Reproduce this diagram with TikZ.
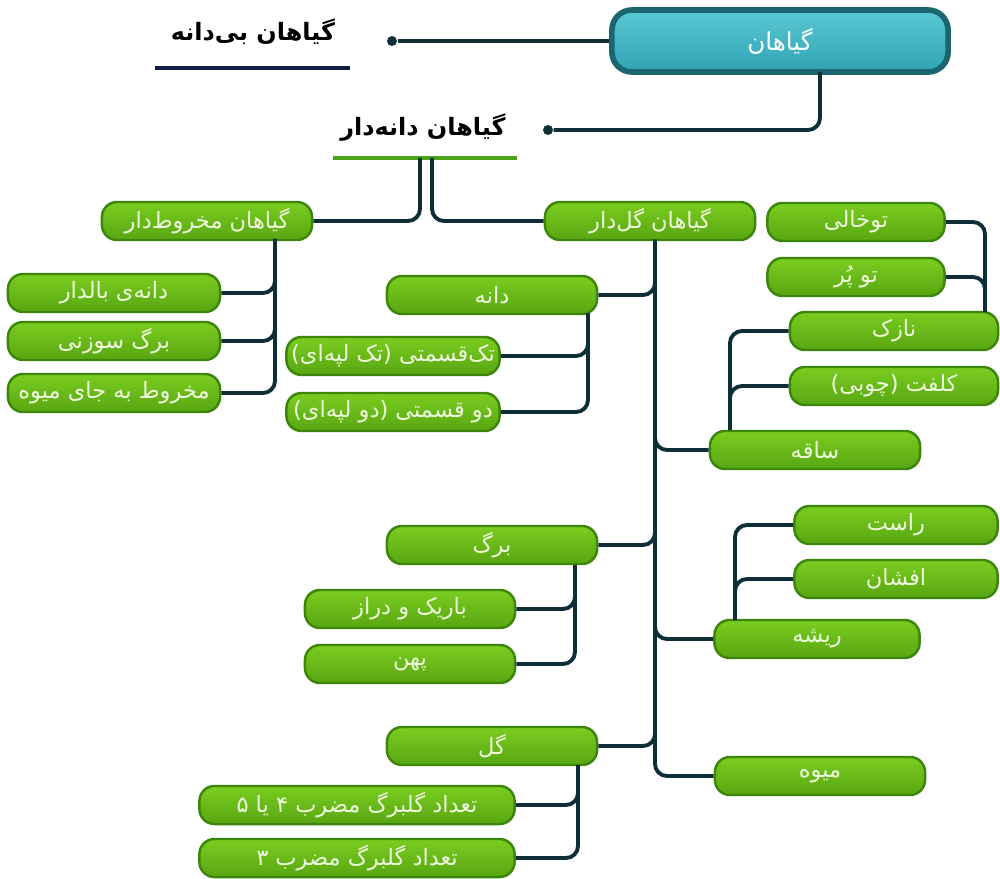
\documentclass[tikz,border=0pt]{standalone}
\usepackage{fontspec}
\newfontfamily\arabicfont[Script=Arabic]{DejaVu Sans}
\TeXXeTstate=1
\newcommand\fa[1]{{\arabicfont\beginR #1\endR}}
\definecolor{boxtop}{HTML}{7ACD20}
\definecolor{boxbot}{HTML}{58A612}
\definecolor{boxedge}{HTML}{3C860B}
\definecolor{boxtext}{HTML}{EEF8DC}
\definecolor{roottop}{HTML}{5AC8D4}
\definecolor{rootbot}{HTML}{2FA3B3}
\definecolor{rootedge}{HTML}{1B666E}
\definecolor{linecol}{HTML}{0E2E38}
\definecolor{navybar}{HTML}{101E46}
\definecolor{greenbar}{HTML}{4AA41A}
\begin{document}
\begin{tikzpicture}[x=0.01cm,y=-0.01cm,
  box/.style={draw=boxedge,line width=0.7pt,rounded corners=0.15cm,top color=boxtop,bottom color=boxbot,
    text=boxtext,font=\fontsize{6.4}{7}\selectfont,inner sep=0pt,minimum height=0.38cm,minimum width=2.1cm},
  rootbox/.style={draw=rootedge,line width=1.6pt,rounded corners=0.2cm,top color=roottop,bottom color=rootbot,
    text=white,font=\fontsize{7}{8}\selectfont,inner sep=0pt,minimum height=0.62cm,minimum width=3.36cm},
  title/.style={font=\fontsize{6.8}{8}\bfseries\selectfont,inner sep=1pt},
  conn/.style={draw=linecol,line width=1.1pt,rounded corners=0.12cm},
  dot/.style={circle,fill=linecol,inner sep=0pt,minimum size=0.1cm}]
\useasboundingbox (0,0) rectangle (1000,879);
\node[rootbox] (root) at (780,41) {\fa{گیاهان}};
\node[dot] (p1) at (392,41) {};
\node[dot] (p2) at (548,130) {};
\node[title] (bidane) at (253,32) {\fa{گیاهان بی^^^^200cدانه}};
\node[title] (danedar) at (423,128) {\fa{گیاهان دانه^^^^200cدار}};
\draw[navybar,line width=1.2pt] (155,68) -- (350,68);
\draw[greenbar,line width=1.2pt] (333,158) -- (517,158);
\coordinate (rb) at (820,72);
\coordinate (d1) at (420,158);
\coordinate (d2) at (432,158);
\draw[conn] (root.west) -- (p1);
\draw[conn] (rb) |- (p2);
\node[box] (cone) at (207,221) {\fa{گیاهان مخروط^^^^200cدار}};
\node[box] (flow) at (650,221) {\fa{گیاهان گل^^^^200cدار}};
\draw[conn] (d1) |- (cone.east);
\draw[conn] (d2) |- (flow.west);
\node[box,minimum width=2.12cm] (baldar) at (114,293) {\fa{دانه^^^^200cی بالدار}};
\node[box,minimum width=2.12cm] (suzani) at (114,341) {\fa{برگ سوزنی}};
\node[box,minimum width=2.12cm] (conefruit) at (114,393) {\fa{مخروط به جای میوه}};
\coordinate (gt) at (275,239);
\draw[conn] (gt) |- (baldar.east);
\draw[conn] (gt) |- (suzani.east);
\draw[conn] (gt) |- (conefruit.east);
\node[box] (dane) at (492,295) {\fa{دانه}};
\node[box,minimum width=2.13cm] (tak) at (393,356) {\fa{تک^^^^200cقسمتی (تک لپه^^^^200cای)}};
\node[box,minimum width=2.13cm] (do) at (393,412) {\fa{دو قسمتی (دو لپه^^^^200cای)}};
\node[box] (barg) at (492,545) {\fa{برگ}};
\node[box] (barik) at (410,609) {\fa{باریک و دراز}};
\node[box] (pahn) at (410,664) {\fa{پهن}};
\node[box] (gol) at (492,746) {\fa{گل}};
\node[box,minimum width=3.15cm] (petal45) at (357,805) {\fa{تعداد گلبرگ مضرب ۴ یا ۵}};
\node[box,minimum width=3.15cm] (petal3) at (357,858) {\fa{تعداد گلبرگ مضرب ۳}};
\node[box,minimum width=1.77cm] (tokhali) at (856,222) {\fa{توخالی}};
\node[box,minimum width=1.77cm] (topor) at (856,277) {\fa{تو پُر}};
\node[box,minimum width=2.08cm] (nazok) at (894,331) {\fa{نازک}};
\node[box,minimum width=2.08cm] (koloft) at (894,386) {\fa{کلفت (چوبی)}};
\node[box] (saqe) at (815,450) {\fa{ساقه}};
\node[box,minimum width=2.03cm] (rast) at (896,525) {\fa{راست}};
\node[box,minimum width=2.03cm] (afshan) at (896,579) {\fa{افشان}};
\node[box,minimum width=2.05cm] (rishe) at (817,639) {\fa{ریشه}};
\node[box] (mive) at (820,776) {\fa{میوه}};
\coordinate (ft) at (655,240);
\draw[conn] (ft) |- (dane.east);
\draw[conn] (ft) |- (saqe.west);
\draw[conn] (ft) |- (barg.east);
\draw[conn] (ft) |- (rishe.west);
\draw[conn] (ft) |- (gol.east);
\draw[conn] (ft) |- (mive.west);
\coordinate (dt) at (588,313);
\draw[conn] (dt) |- (tak.east);
\draw[conn] (dt) |- (do.east);
\coordinate (st) at (730,430);
\draw[conn] (st) |- (nazok.west);
\draw[conn] (st) |- (koloft.west);
\coordinate (nt) at (985,312);
\draw[conn] (tokhali.east) -| (nt);
\draw[conn] (topor.east) -| (nt);
\coordinate (bt) at (575,565);
\draw[conn] (bt) |- (barik.east);
\draw[conn] (bt) |- (pahn.east);
\coordinate (rt) at (735,620);
\draw[conn] (rt) |- (rast.west);
\draw[conn] (rt) |- (afshan.west);
\coordinate (lt) at (578,765);
\draw[conn] (lt) |- (petal45.east);
\draw[conn] (lt) |- (petal3.east);
\end{tikzpicture}
\end{document}
